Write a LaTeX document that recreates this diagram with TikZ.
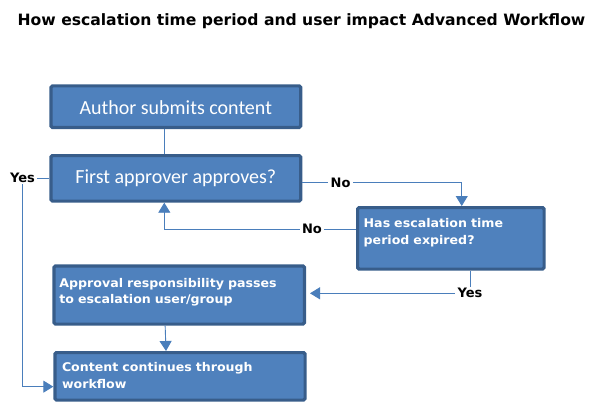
\documentclass[tikz,border=0pt]{standalone}
\usepackage{fontspec}
\usepackage{tikz}
\usetikzlibrary{arrows.meta}
\definecolor{boxfill}{HTML}{4F81BD}
\definecolor{boxedge}{HTML}{385D8A}
\definecolor{linkblue}{HTML}{4A7EBB}
\newfontfamily\stepfont{Carlito}
\newfontfamily\notefont{DejaVu Sans}[FakeStretch=1.05]
\newfontfamily\headfont{DejaVu Sans}

\begin{document}
\begin{tikzpicture}[x=1pt,y=-1pt,
    flowbox/.style={draw=boxedge,fill=boxfill,line width=3.2pt,rounded corners=1.5pt,text=white},
    bigbox/.style={flowbox,inner sep=0pt,minimum width=249.8pt,font=\stepfont\fontsize{20}{24}\selectfont},
    notebox/.style={flowbox,anchor=north west,align=left,inner ysep=0pt,font=\notefont\bfseries\fontsize{12}{16.5}\selectfont},
    link/.style={draw=linkblue,line width=0.9pt},
    tolink/.style={link,-{Triangle[length=10pt,width=12pt]}},
    lbl/.style={fill=white,inner xsep=2.5pt,inner ysep=1pt,font=\headfont\bfseries\fontsize{13}{15}\selectfont}]

  \useasboundingbox (0,0) rectangle (595,412);
  \node[font=\headfont\bfseries\fontsize{15.6}{18}\selectfont] (title) at (301.5,21)
    {How escalation time period and user impact Advanced Workflow};

  % main steps
  \node[bigbox,minimum height=41.5pt,text height=15pt,text depth=0pt] (author) at (175.8,106.65) {Author submits content};
  \node[bigbox,minimum height=45.5pt,text height=14pt,text depth=4pt] (first) at (175.8,178.35) {First approver approves?};
  \node[notebox,inner xsep=6.1pt,text width=174.3pt,text height=20.1pt,text depth=41.4pt] (esc) at (356,206)
    {Has escalation time\\period expired?};
  \node[notebox,inner xsep=5.5pt,text width=239.5pt,text height=21.4pt,text depth=36.8pt] (approval) at (52.3,264.3)
    {Approval responsibility passes\\to escalation user/group};
  \node[notebox,inner xsep=7.1pt,text width=236pt,text height=19.1pt,text depth=28.4pt] (content) at (53.3,351)
    {Content continues through\\workflow};

  % connectors
  \draw[link] ([xshift=-11.8pt]author.south) -- ([xshift=-11.8pt]first.north);
  \draw[tolink] ([yshift=-4.4pt]first.east) -| node[lbl,pos=0.12]{No} ([xshift=10.9pt]esc.north);
  \draw[tolink] ([yshift=9.1pt]esc.west) -| node[lbl,pos=0.115]{No} ([xshift=-11.5pt]first.south);
  \draw[tolink] ([xshift=19.2pt]esc.south) |- node[lbl,pos=0.5]{Yes} ([xshift=4pt,yshift=1.7pt]approval.east);
  \draw[tolink] ([xshift=-14pt]approval.south) -- ([xshift=-14pt]content.north);
  \coordinate (yesturn) at (22.5,178.35);
  \draw[tolink] (first.west) -- (yesturn) node[lbl]{Yes} |- ([yshift=-10.3pt]content.west);
\end{tikzpicture}
\end{document}
